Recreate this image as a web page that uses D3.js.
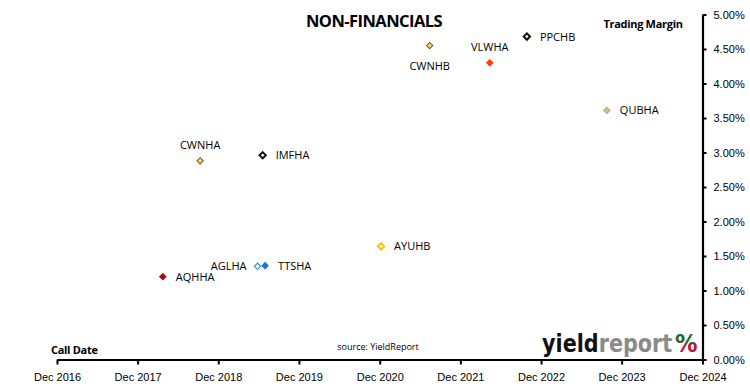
<!DOCTYPE html>
<html><head><meta charset="utf-8">
<script src="https://cdn.jsdelivr.net/npm/d3@7"></script>
<style>
html,body{margin:0;padding:0;background:#fff;}
svg{display:block;font-family:"Open Sans","Noto Sans",sans-serif;}
</style></head>
<body><svg id="c" width="750" height="391"></svg>
<script>
// ---- data ----
const codes     = ["CWNHA","IMFHA","CWNHB","VLWHA","PPCHB","QUBHA","AQHHA","AGLHA","TTSHA","AYUHB"];
const callDates = ["2018-09-10","2019-06-20","2021-07-15","2022-04-13","2022-09-28","2023-09-25","2018-03-25","2019-05-28","2019-07-01","2020-12-07"];
const margins   = [2.88, 2.96, 4.55, 4.30, 4.68, 3.61, 1.20, 1.35, 1.36, 1.64];
const xTickDates = ["2016-12-01","2017-12-01","2018-12-01","2019-12-01","2020-12-01","2021-12-01","2022-12-01","2023-12-01","2024-12-01"];
const yTicks    = [0,0.5,1,1.5,2,2.5,3,3.5,4,4.5,5];

// ---- styles (kept separate from data) ----
const markerStyle = {
  CWNHA:{fill:"#f2d27a",stroke:"#6b5a2a",sw:1},
  IMFHA:{fill:"#ffffff",stroke:"#111111",sw:2},
  CWNHB:{fill:"#f2d27a",stroke:"#6b5a2a",sw:1},
  VLWHA:{fill:"#ff3b10",stroke:"#ff3b10",sw:1},
  PPCHB:{fill:"#ffffff",stroke:"#111111",sw:2},
  QUBHA:{fill:"#d7c27a",stroke:"#a9a9a0",sw:1},
  AQHHA:{fill:"#a00f12",stroke:"#a00f12",sw:1},
  AGLHA:{fill:"#ffffff",stroke:"#3d8fd8",sw:1.2},
  TTSHA:{fill:"#1a78c8",stroke:"#1a78c8",sw:1},
  AYUHB:{fill:"#ffffff",stroke:"#ffc000",sw:2}
};
const labelPos = {CWNHA:"above",IMFHA:"right",CWNHB:"below",VLWHA:"above",PPCHB:"right",
  QUBHA:"right",AQHHA:"right",AGLHA:"left",TTSHA:"right",AYUHB:"right"};

const svg = d3.select("#c");
const parse = d3.timeParse("%Y-%m-%d");
const x = d3.scaleTime().domain([parse("2016-12-01"), parse("2024-12-01")]).range([57, 702.5]);
const y = d3.scaleLinear().domain([0,5]).range([359.5, 14.5]);

// x axis
const xAxis = d3.axisBottom(x).tickValues(xTickDates.map(parse)).tickFormat(d3.timeFormat("Dec %Y")).tickSize(5).tickSizeOuter(0);
const gx = svg.append("g").attr("transform","translate(0,359.5)").call(xAxis);
gx.select(".domain").attr("stroke","#000").attr("stroke-width",2.2);
gx.selectAll(".tick line").attr("stroke","#000").attr("stroke-width",2);
gx.selectAll(".tick text").attr("font-size",11).attr("fill","#000").attr("dy","1.25em");

// y axis (right)
const yAxis = d3.axisRight(y).tickValues(yTicks).tickFormat(d => d3.format(".2f")(d)+"%").tickSize(4).tickSizeOuter(0);
const gy = svg.append("g").attr("transform","translate(702.5,0)").call(yAxis);
gy.select(".domain").attr("stroke","#000").attr("stroke-width",2.2);
gy.selectAll(".tick line").attr("stroke","#000").attr("stroke-width",2);
gy.selectAll(".tick text").attr("font-size",11).attr("fill","#000").attr("x",11);

// title and labels
svg.append("text").attr("x",374).attr("y",27).attr("text-anchor","middle")
  .attr("font-size",16.5).attr("font-weight","bold").attr("letter-spacing","-0.55").text("NON-FINANCIALS");
svg.append("text").attr("x",643).attr("y",28).attr("text-anchor","middle")
  .attr("font-size",11).attr("font-weight","bold").attr("letter-spacing","-0.3").text("Trading Margin");
svg.append("text").attr("x",51).attr("y",354)
  .attr("font-size",11).attr("font-weight","bold").attr("letter-spacing","-0.3").text("Call Date");
svg.append("text").attr("x",378).attr("y",350).attr("text-anchor","middle")
  .attr("font-size",9).text("source: YieldReport");

// logo
const grad = svg.append("defs").append("linearGradient").attr("id","pct").attr("x1",0).attr("y1",0).attr("x2",0).attr("y2",1);
grad.append("stop").attr("offset","0%").attr("stop-color","#1f6b2e");
grad.append("stop").attr("offset","42%").attr("stop-color","#1f6b2e");
grad.append("stop").attr("offset","58%").attr("stop-color","#c8102e");
grad.append("stop").attr("offset","100%").attr("stop-color","#c8102e");
const logo = svg.append("text").attr("transform","translate(542,352) scale(0.83,1)")
  .attr("font-size",25).attr("font-weight","bold")
  .attr("font-family","'DejaVu Sans',sans-serif");
logo.append("tspan").attr("fill","#111").text("yield");
logo.append("tspan").attr("fill","#8a8a8a").text("report");
svg.append("text").attr("transform","translate(675,352) scale(0.9,1)")
  .attr("font-size",25).attr("font-weight","bold")
  .attr("font-family","'DejaVu Sans',sans-serif")
  .attr("fill","url(#pct)").text("%");

// markers
const data = codes.map((c,i)=>({code:c,date:parse(callDates[i]),m:margins[i]}));
svg.append("g").selectAll("path").data(data).join("path")
  .attr("d",d3.symbol().type(d3.symbolSquare).size(20))
  .attr("transform",d=>`translate(${x(d.date)},${y(d.m)}) rotate(45)`)
  .attr("fill",d=>markerStyle[d.code].fill)
  .attr("stroke",d=>markerStyle[d.code].stroke)
  .attr("stroke-width",d=>markerStyle[d.code].sw);

// point labels
svg.append("g").selectAll("text").data(data).join("text")
  .attr("font-size",11).attr("fill","#000")
  .attr("x",d=>{const p=labelPos[d.code],px=x(d.date);return p==="right"?px+13:p==="left"?px-11:px;})
  .attr("y",d=>{const p=labelPos[d.code],py=y(d.m);return p==="above"?py-12:p==="below"?py+24:py+4;})
  .attr("text-anchor",d=>{const p=labelPos[d.code];return p==="right"?"start":p==="left"?"end":"middle";})
  .text(d=>d.code);
</script></body></html>
